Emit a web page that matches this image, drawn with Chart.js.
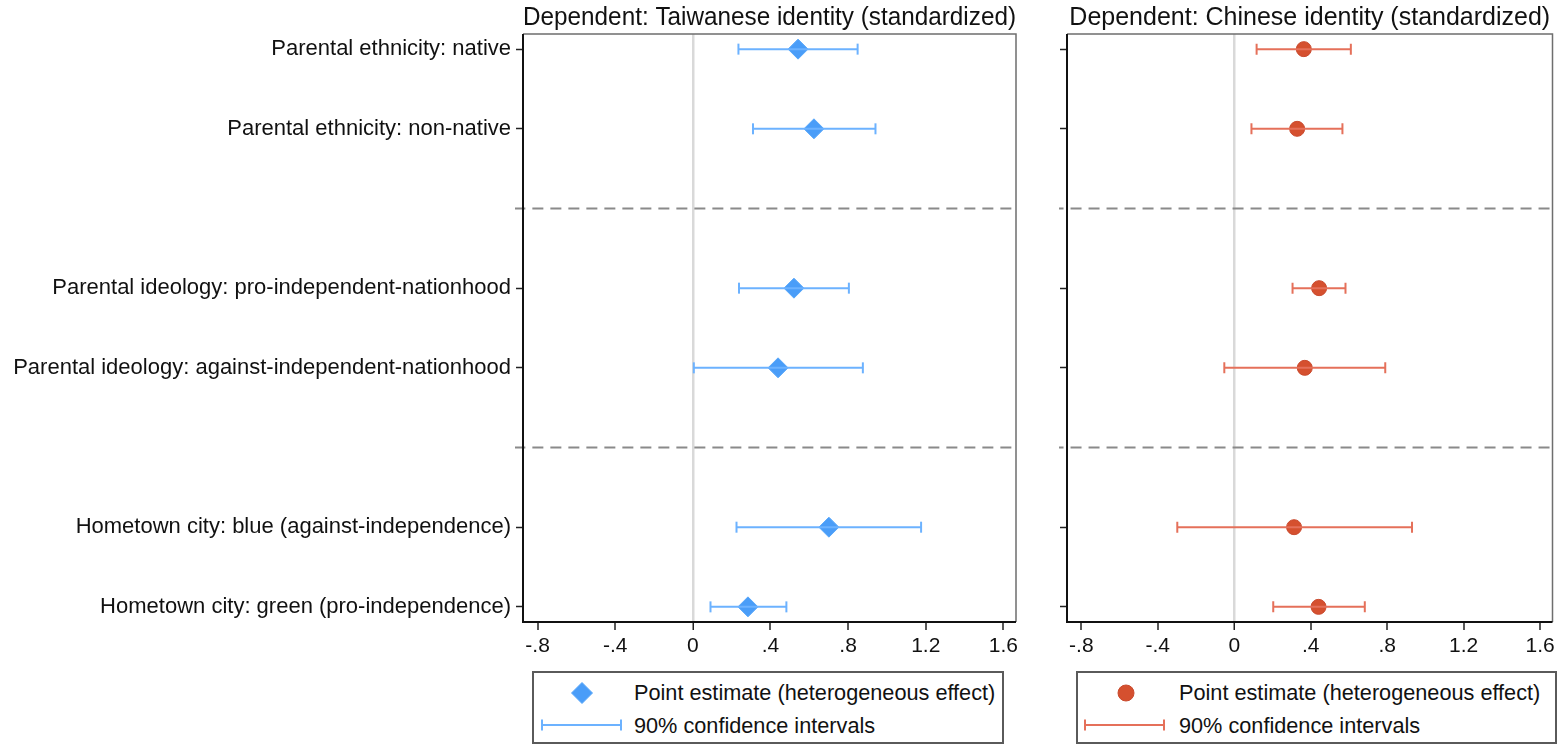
<!DOCTYPE html>
<html>
<head>
<meta charset="utf-8">
<script src="https://cdn.jsdelivr.net/npm/chart.js@4.4.1/dist/chart.umd.min.js"></script>
<style>
  html, body { margin: 0; padding: 0; background: #fff; }
  body { width: 1561px; height: 744px; position: relative; overflow: hidden;
         font-family: "Liberation Sans", Arial, sans-serif; color: #111; }
  .panel { position: absolute; top: 0; }
  .legend { position: absolute; box-sizing: border-box; border: 2px solid #5a5a5a; background: #fff; }
  .legend .item { position: absolute; font-size: 21.7px; line-height: 26px; white-space: nowrap; }
  .legend svg { position: absolute; }
</style>
</head>
<body>
<div class="panel" style="left:0;width:1030px;height:668px"><canvas id="left" width="1030" height="668"></canvas></div>
<div class="panel" style="left:1040px;width:521px;height:668px"><canvas id="right" width="521" height="668"></canvas></div>

<div class="legend" style="left:532px;top:671px;width:472px;height:73px">
  <svg style="left:36px;top:8px" width="24" height="24"><polygon points="12,1.5 22.5,12 12,22.5 1.5,12" fill="#4A9DF8" stroke="#5AA8FA" stroke-width="1"/></svg>
  <div class="item" style="left:100px;top:7px">Point estimate (heterogeneous effect)</div>
  <svg style="left:7px;top:45px" width="82" height="14"><line x1="1" y1="7" x2="80" y2="7" stroke="#6CB2FF" stroke-width="2"/><line x1="1" y1="1.5" x2="1" y2="12.5" stroke="#6CB2FF" stroke-width="2"/><line x1="80" y1="1.5" x2="80" y2="12.5" stroke="#6CB2FF" stroke-width="2"/></svg>
  <div class="item" style="left:100px;top:40px">90% confidence intervals</div>
</div>

<div class="legend" style="left:1076px;top:671px;width:481px;height:73px">
  <svg style="left:36px;top:8px" width="24" height="24"><circle cx="12" cy="12" r="8" fill="#D5502F" stroke="#C94A2E" stroke-width="1"/></svg>
  <div class="item" style="left:101px;top:7px">Point estimate (heterogeneous effect)</div>
  <svg style="left:6px;top:45px" width="82" height="14"><line x1="1" y1="7" x2="80" y2="7" stroke="#E5705A" stroke-width="2"/><line x1="1" y1="1.5" x2="1" y2="12.5" stroke="#E5705A" stroke-width="2"/><line x1="80" y1="1.5" x2="80" y2="12.5" stroke="#E5705A" stroke-width="2"/></svg>
  <div class="item" style="left:101px;top:40px">90% confidence intervals</div>
</div>

<script>
// Row labels (top to bottom), grouped in pairs separated by dashed lines
const categories = [
  'Parental ethnicity: native',
  'Parental ethnicity: non-native',
  'Parental ideology: pro-independent-nationhood',
  'Parental ideology: against-independent-nationhood',
  'Hometown city: blue (against-independence)',
  'Hometown city: green (pro-independence)'
];

// Dependent: Taiwanese identity (standardized)
const taiwanEst  = [0.542, 0.624, 0.521, 0.439, 0.701, 0.284];
const taiwanLow  = [0.235, 0.310, 0.238, 0.005, 0.225, 0.091];
const taiwanHigh = [0.849, 0.941, 0.804, 0.876, 1.176, 0.482];

// Dependent: Chinese identity (standardized)
const chinaEst  = [0.364, 0.329, 0.444, 0.369, 0.313, 0.441];
const chinaLow  = [0.117, 0.090, 0.305, -0.052, -0.298, 0.204];
const chinaHigh = [0.610, 0.566, 0.582, 0.790, 0.930, 0.683];

const xTickValues = [-0.8, -0.4, 0, 0.4, 0.8, 1.2, 1.6];
const xTickLabels = ['-.8', '-.4', '0', '.4', '.8', '1.2', '1.6'];

// Each pair of rows is followed by a separator slot
const rowSlot = categories.map((_, i) => i + Math.floor(i / 2) + 1);
const separatorSlots = [3, 6];

const FONT = '"Liberation Sans", Arial, sans-serif';

// Full frame around the plotting area
const framePlugin = {
  id: 'frame',
  afterDraw(chart) {
    const a = chart.chartArea, ctx = chart.ctx;
    ctx.save();
    ctx.strokeStyle = '#6e6e6e';
    ctx.lineWidth = 1.5;
    ctx.beginPath();
    ctx.moveTo(a.left, a.top); ctx.lineTo(a.right, a.top); ctx.lineTo(a.right, a.bottom);
    ctx.stroke();
    ctx.strokeStyle = '#111';
    ctx.lineWidth = 2;
    ctx.beginPath();
    ctx.moveTo(a.left, a.top); ctx.lineTo(a.left, a.bottom); ctx.lineTo(a.right, a.bottom);
    ctx.stroke();
    ctx.restore();
  }
};

function buildChart(id, opts) {
  const datasets = [];
  separatorSlots.forEach(s => datasets.push({
    data: [{ x: -5, y: s }, { x: 5, y: s }],
    showLine: true, borderColor: '#8a8a8a', borderWidth: 2, borderDash: [11, 7],
    pointRadius: 0, clip: { left: 8, right: 2, top: 0, bottom: 0 }
  }));
  categories.forEach((_, i) => datasets.push({
    data: [{ x: opts.low[i], y: rowSlot[i] }, { x: opts.high[i], y: rowSlot[i] }],
    showLine: true, borderColor: opts.ciColor, borderWidth: 2,
    pointStyle: 'line', pointRotation: 90, pointRadius: 5.5,
    pointBorderColor: opts.ciColor, pointBorderWidth: 2
  }));
  datasets.push({
    data: opts.est.map((v, i) => ({ x: v, y: rowSlot[i] })),
    pointStyle: opts.markerStyle, pointRadius: opts.markerRadius,
    pointBackgroundColor: opts.markerFill, pointBorderColor: opts.markerBorder,
    pointBorderWidth: 1
  });

  return new Chart(document.getElementById(id), {
    type: 'scatter',
    data: { datasets },
    plugins: [framePlugin],
    options: {
      responsive: false, animation: false, events: [],
      layout: { padding: { left: 0, right: opts.padRight, top: 0, bottom: 0 } },
      plugins: {
        legend: { display: false }, tooltip: { enabled: false },
        title: {
          display: true, text: opts.title, fullSize: false,
          color: '#111', font: { family: FONT, size: 25, weight: 'normal' },
          padding: { top: 3, bottom: 1 }
        }
      },
      scales: {
        x: {
          type: 'linear', min: -0.875, max: 1.665,
          afterBuildTicks: s => { s.ticks = xTickValues.map(v => ({ value: v })); },
          afterFit: s => { s.height = 46; },
          ticks: {
            color: '#111', font: { family: FONT, size: 21 }, padding: 4,
            callback: v => xTickLabels[xTickValues.findIndex(t => Math.abs(t - v) < 1e-9)]
          },
          grid: {
            drawOnChartArea: true, drawTicks: true, tickLength: 8,
            color: c => (c.tick && Math.abs(c.tick.value) < 1e-9) ? '#d9d9d9' : 'rgba(0,0,0,0)',
            lineWidth: c => (c.tick && Math.abs(c.tick.value) < 1e-9) ? 2.5 : 0,
            tickColor: '#222', tickWidth: 1.5
          },
          border: { display: false }
        },
        y: {
          type: 'linear', min: 0.81, max: 8.19, reverse: true,
          afterBuildTicks: s => { s.ticks = rowSlot.map(v => ({ value: v })); },
          afterFit: s => { s.width = opts.yWidth; },
          ticks: {
            display: opts.showLabels, color: '#111', font: { family: FONT, size: 22 }, padding: 5,
            callback: v => categories[rowSlot.indexOf(v)]
          },
          grid: { drawOnChartArea: false, drawTicks: true, tickLength: 7, tickColor: '#222', tickWidth: 1.5 },
          border: { display: false }
        }
      }
    }
  });
}

buildChart('left', {
  title: 'Dependent: Taiwanese identity (standardized)',
  est: taiwanEst, low: taiwanLow, high: taiwanHigh,
  ciColor: '#6CB2FF', markerStyle: 'rectRot', markerRadius: 10,
  markerFill: '#4A9DF8', markerBorder: '#5AA8FA',
  yWidth: 523, padRight: 14, showLabels: true
});

buildChart('right', {
  title: 'Dependent: Chinese identity (standardized)',
  est: chinaEst, low: chinaLow, high: chinaHigh,
  ciColor: '#E5705A', markerStyle: 'circle', markerRadius: 7.5,
  markerFill: '#D5502F', markerBorder: '#C94A2E',
  yWidth: 27, padRight: 4, showLabels: false
});
</script>
</body>
</html>
